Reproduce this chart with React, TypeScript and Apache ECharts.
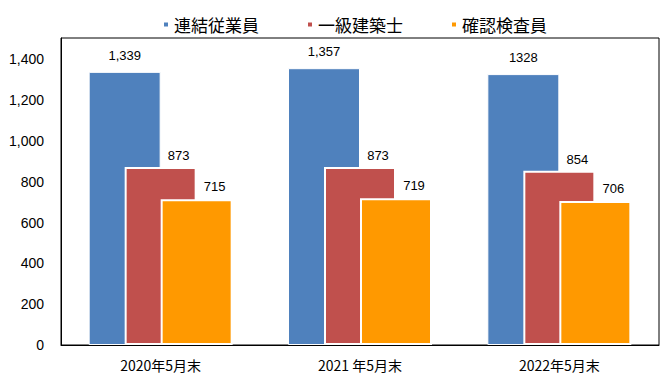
import React, { useEffect, useRef } from "react";
import * as echarts from "echarts";

const categories = ["2020年5月末", "2021 年5月末", "2022年5月末"];
const seriesNames = ["連結従業員", "一級建築士", "確認検査員"];
const employees = [1339, 1357, 1328];
const architects = [873, 873, 854];
const inspectors = [715, 719, 706];
const employeeLabels = ["1,339", "1,357", "1328"];
const yMax = 1505;
const yInterval = 200;

const FONT = "'Liberation Sans', 'Noto Sans CJK JP', sans-serif";
const CJK = "'Noto Sans CJK JP', sans-serif";

export default function App() {
  const ref = useRef<HTMLDivElement>(null);
  useEffect(() => {
    if (!ref.current) return;
    const chart = echarts.init(ref.current, undefined, { renderer: "svg" });
    chart.setOption({
      animation: false,
      backgroundColor: "#fff",
      legend: {
        data: seriesNames,
        left: 157,
        top: 11,
        icon: "rect",
        itemWidth: 6,
        itemHeight: 6,
        itemGap: 47,
        textStyle: { fontFamily: CJK, fontSize: 17, color: "#000", padding: [0, 0, 0, 0] },
      },
      grid: {
        left: 61,
        right: 11,
        top: 38,
        bottom: 30,
        show: true,
        borderColor: "#000",
        borderWidth: 1,
        backgroundColor: "transparent",
      },
      xAxis: {
        type: "category",
        data: categories,
        axisLine: { show: true, lineStyle: { color: "#000", width: 1 } },
        axisTick: { show: false },
        axisLabel: { color: "#000", fontFamily: CJK, fontSize: 14, margin: 13 },
      },
      yAxis: {
        type: "value",
        min: 0,
        max: yMax,
        interval: yInterval,
        axisLine: { show: true, lineStyle: { color: "#000", width: 1 } },
        axisTick: { show: false },
        splitLine: { show: false },
        axisLabel: {
          color: "#000",
          fontFamily: FONT,
          fontSize: 14,
          margin: 17,
          showMaxLabel: false,
          formatter: (v: number) => v.toLocaleString("en-US"),
        },
      },
      series: [
        {
          name: seriesNames[0],
          type: "bar",
          data: employees,
          barWidth: 72,
          barGap: "-50%",
          itemStyle: { color: "#4F81BD", borderColor: "#fff", borderWidth: 1 },
          label: {
            show: true,
            position: "top",
            distance: 10,
            color: "#000",
            fontFamily: FONT,
            fontSize: 13,
            formatter: (p: any) => employeeLabels[p.dataIndex],
          },
        },
        {
          name: seriesNames[1],
          type: "bar",
          data: architects,
          barWidth: 72,
          barGap: "-50%",
          itemStyle: { color: "#C0504D", borderColor: "#fff", borderWidth: 2 },
          label: {
            show: true,
            position: "top",
            distance: 5,
            offset: [18, 0],
            color: "#000",
            fontFamily: FONT,
            fontSize: 13,
          },
        },
        {
          name: seriesNames[2],
          type: "bar",
          data: inspectors,
          barWidth: 72,
          barGap: "-50%",
          itemStyle: { color: "#FF9900", borderColor: "#fff", borderWidth: 2 },
          label: {
            show: true,
            position: "top",
            distance: 6,
            offset: [18, 0],
            color: "#000",
            fontFamily: FONT,
            fontSize: 13,
          },
        },
      ],
    });
    return () => chart.dispose();
  }, []);
  return <div ref={ref} style={{ width: 670, height: 375, position: "absolute", left: 0, top: 0 }} />;
}
